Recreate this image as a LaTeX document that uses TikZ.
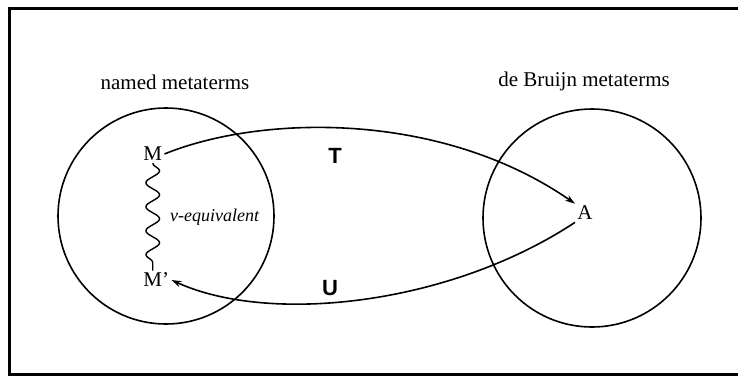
\documentclass[tikz,border=0pt]{standalone}
\usepackage{fontspec}
\setmainfont{Liberation Serif}
\setsansfont{Liberation Sans}
\usetikzlibrary{positioning, arrows.meta, decorations.pathmorphing}

\begin{document}
\begin{tikzpicture}[
  x=0.5pt, y=-0.5pt,
  set/.style={
    draw, circle, line width=0.8pt, minimum size=#1, inner sep=0pt
  },
  title/.style={font=\fontsize{10.5}{12}\selectfont},
  term/.style={font=\fontsize{10.5}{12}\selectfont, inner sep=1pt},
  maplabel/.style={font=\fontsize{11}{13}\selectfont\sffamily\bfseries},
  trans/.style={
    -{Stealth[length=5pt, width=3.2pt]}, line width=0.8pt
  },
  wavy/.style={
    decorate, line width=0.7pt,
    decoration={snake, segment length=12pt, amplitude=3.4pt}
  },
]
\useasboundingbox (0,0) rectangle (738,376);

% frame (right side runs off the page)
\draw[line width=1.1pt] (745,8.5) -- (9.5,8.5) -- (9.5,374.5) -- (745,374.5);

% the two sets
\node[set=108pt] (named) at (166,216) {};
\node[set=109pt] (bruijn) at (592,218) {};
\node[title] (namedtitle) at (175,82) {named metaterms};
\node[title] (bruijntitle) at (584,81) {de Bruijn metaterms};

% terms
\node[term, anchor=west] (M) at (141,154) {M};
\node[term, anchor=west] (Mp) at (141,280) {M'};
\node[term] (A) at (585,213) {A};

% v-equivalence
\draw[wavy] (M.south) -- (M.south |- Mp.north)
  node[midway, right=5pt, font=\fontsize{9}{11}\selectfont\itshape] (veq) {v-equivalent};

% translations
\draw[trans] (M.east) .. controls (260,115) and (440,110) .. (A.north west);
\draw[trans] (A.south west) .. controls (450,305) and (270,325) .. (Mp.east);
\node[maplabel] (T) at (335,156) {T};
\node[maplabel] (U) at (330,288) {U};

\end{tikzpicture}
\end{document}
